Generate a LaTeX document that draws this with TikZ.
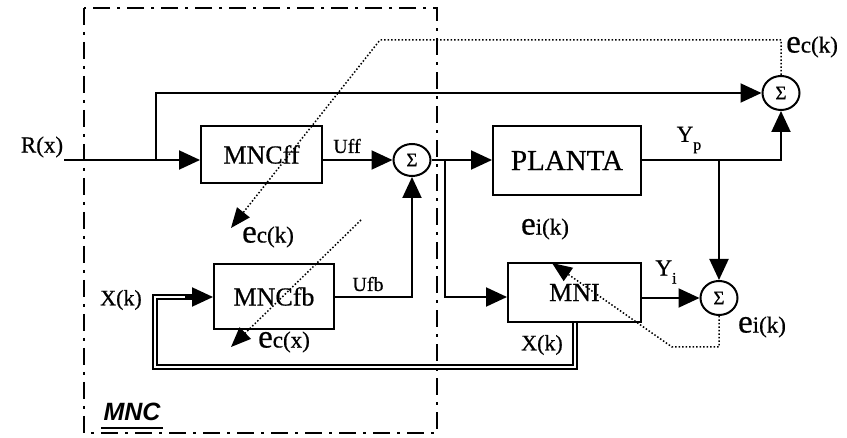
\documentclass[tikz,border=0pt]{standalone}
\usepackage{fontspec}
\setmainfont[FakeBold=0.6]{Liberation Serif}
\newfontfamily\arialfont{Liberation Sans}
\usetikzlibrary{arrows.meta,shapes.geometric}
\newcommand{\fs}[1]{\fontsize{#1}{#1}\selectfont}
\newcommand{\ebig}[1]{{\fs{33}e}{\fs{23}#1}}
\tikzset{
  blk/.style={draw,line width=2pt,rectangle,inner sep=0pt,font=\fs{26}},
  sumn/.style={draw,line width=2pt,ellipse,inner sep=0pt,minimum width=37pt,minimum height=32pt,font=\fs{19}},
  wire/.style={line width=2pt},
  arr/.style={wire,-{Triangle[length=21pt,width=19pt]}},
  dot/.style={line width=1.5pt,dotted},
  darr/.style={dot,-{Triangle[length=20pt,width=16pt]}},
  dbl/.style={double,double distance=2.6pt,line width=1.6pt},
  lbl/.style={inner sep=0pt},
}
\begin{document}
\begin{tikzpicture}[x=1pt,y=-1pt]
\useasboundingbox (0,0) rectangle (847,438);
% MNC frame
\draw[line width=2.8pt,dash pattern=on 17pt off 7pt on 3pt off 7pt] (84,8) rectangle (437,433);
% blocks
\node[blk,minimum width=121pt,minimum height=57pt] (ff) at (261.5,154.5) {MNCff};
\node[blk,minimum width=148pt,minimum height=69pt,font=\fs{29}] (pl) at (567,160.5) {PLANTA};
\node[blk,minimum width=120pt,minimum height=65pt] (fb) at (274,296.5) {MNCfb};
\node[blk,minimum width=133pt,minimum height=59pt] (mni) at (574.5,292.5) {MNI};
\node[sumn] (s1) at (412,160) {Σ};
\node[sumn,minimum height=34pt] (s2) at (781,93) {Σ};
\node[sumn,minimum height=34pt] (s3) at (719,298) {Σ};
% coordinates
\coordinate (rin) at (64,160);
\coordinate (rb) at (156,160);
\coordinate (ub) at (445,160);
\coordinate (yb) at (719,160);
\coordinate (ufbc) at (412,297);
\coordinate (mnil) at (445,297);
\coordinate (ypc) at (781,160);
\coordinate (xa) at (155,297);
\coordinate (xb) at (155,367);
\coordinate (xc) at (575,367);
\coordinate (xend) at (195,297);
\coordinate (d1a) at (781,40);
\coordinate (d1b) at (380,40);
\coordinate (d1t) at (231,228);
\coordinate (d2a) at (361,220);
\coordinate (d2t) at (231,347);
\coordinate (d3a) at (719,347);
\coordinate (d3b) at (672,347);
\coordinate (d3t) at (552,263);
% solid connectors
\draw[arr] (rin) -- (ff.west |- rin);
\draw[arr] (rb) -- (rb |- s2) -- (s2.west);
\draw[arr] (ff.east |- s1) -- (s1.west);
\draw[arr] (s1.east) -- (pl.west |- s1);
\draw[arr] (ub) -- (mnil) -- (mni.west |- mnil);
\draw[arr] (pl.east |- ypc) -- (ypc) -- (s2.south);
\draw[arr] (yb) -- (s3.north);
\draw[arr] (fb.east |- ufbc) -- (ufbc) -- (s1.south);
\draw[arr] (mni.east |- s3) -- (s3.west);
% double connector
\draw[dbl] (mni.south -| xc) -- (xc) -- (xb) -- (xa) -- (xend);
\draw[arr] (185,297) -- (fb.west |- xa);
% dotted error paths
\draw[darr] (s2.north) -- (d1a) -- (d1b) -- (d1t);
\draw[darr] (d2a) -- (d2t);
\draw[darr] (s3.south) -- (d3a) -- (d3b) -- (d3t);
% labels
\node[lbl,font=\fs{23}] (lr) at (42,147) {R(x)};
\node[lbl,font=\fs{20}] (luff) at (347,146) {Uff};
\node[lbl,font=\fs{20}] (lufb) at (368,284) {Ufb};
\node[lbl,font=\fs{23}] (lyp) at (689,140) {Y\raisebox{-8pt}{\fs{16}p}};
\node[lbl,font=\fs{23}] (lyi) at (666,272) {Y\raisebox{-8pt}{\fs{16}i}};
\node[lbl,anchor=west] (le1) at (786,47) {\ebig{c(k)}};
\node[lbl] (le2) at (268,237) {\ebig{c(k)}};
\node[lbl] (le3) at (284,342) {\ebig{c(x)}};
\node[lbl] (le4) at (545,229) {\ebig{i(k)}};
\node[lbl] (le5) at (762,327) {\ebig{i(k)}};
\node[lbl,font=\fs{22}] (lx1) at (121,300) {X(k)};
\node[lbl,font=\fs{22}] (lx2) at (542,345) {X(k)};
\node[lbl,font=\arialfont\bfseries\itshape\fs{25}] (lmnc) at (132,412) {MNC};
\draw[line width=2.8pt] (101,428) -- (163,428);
\end{tikzpicture}
\end{document}
